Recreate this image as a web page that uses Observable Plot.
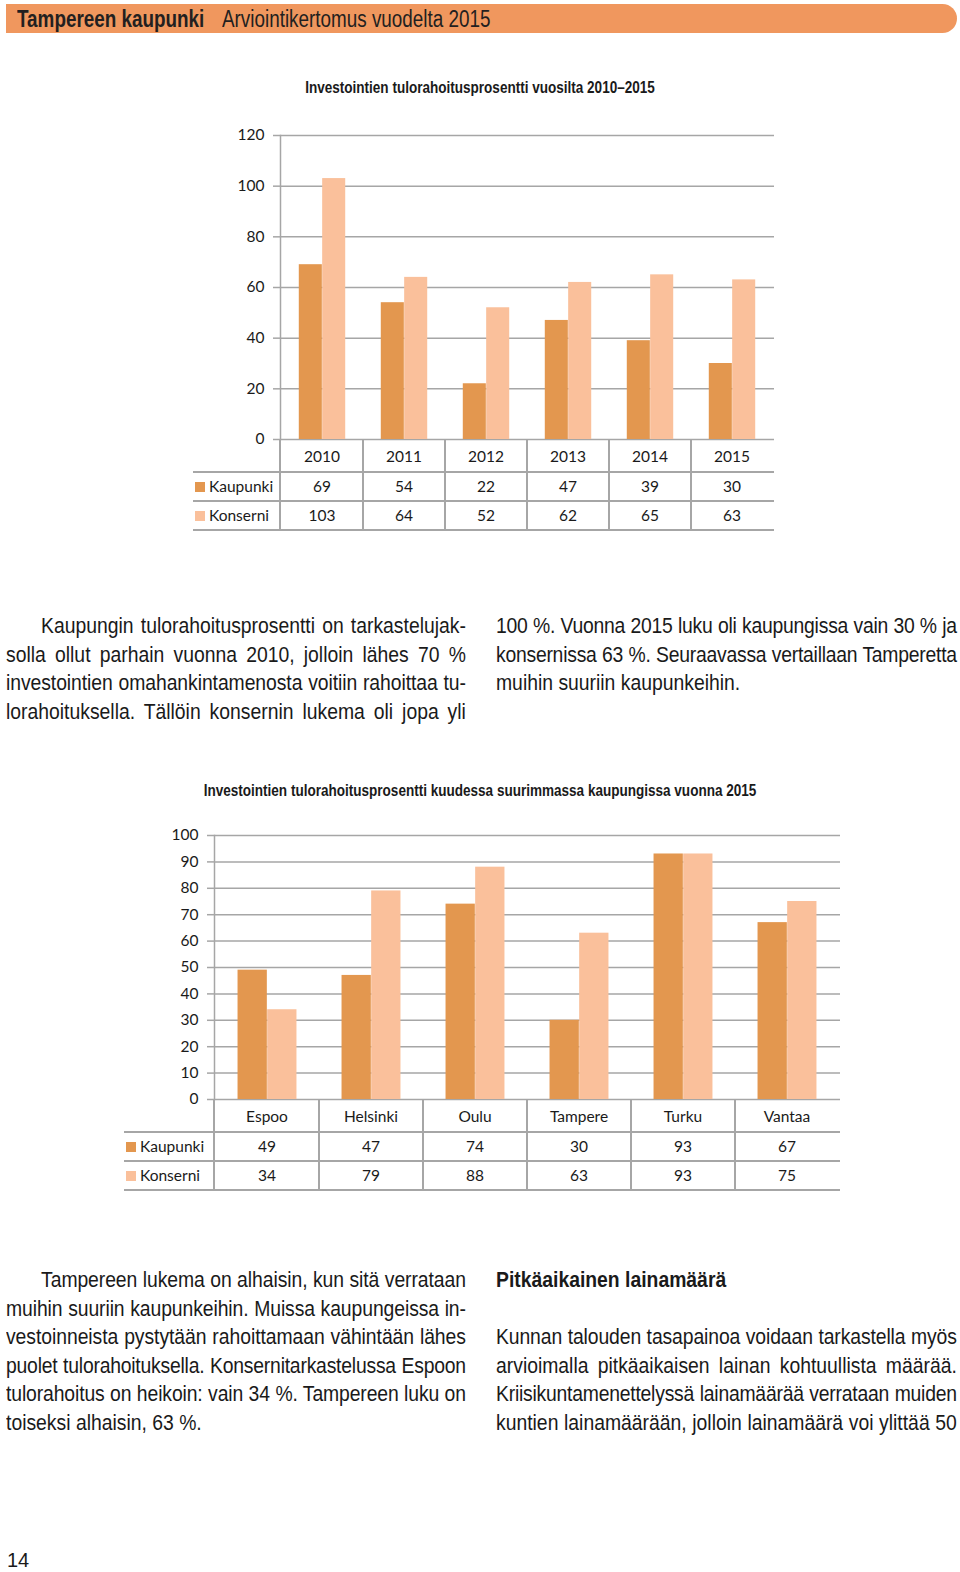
<!DOCTYPE html>
<html><head><meta charset="utf-8">
<script src="https://cdn.jsdelivr.net/npm/d3@7"></script>
<script src="https://cdn.jsdelivr.net/npm/@observablehq/plot@0.6"></script>
<style>
html,body{margin:0;padding:0;}
body{width:960px;height:1572px;position:relative;background:#fff;overflow:hidden;
  font-family:"Liberation Sans",Arial,sans-serif;color:#1a1a1a;}
.abs{position:absolute;}
#header{left:6px;top:4px;width:951px;height:29px;background:#F0975E;border-radius:0 15px 15px 0;}
#header span{position:absolute;top:0;line-height:31px;white-space:nowrap;color:#231f20;transform:scaleX(0.82);transform-origin:0 0;}
.ctitle{font-weight:bold;font-size:16.5px;white-space:nowrap;transform:translateX(-50%) scaleX(0.82);}
.para{font-size:21.5px;line-height:28.6px;transform:scaleX(0.9);transform-origin:0 0;}
.para div{white-space:nowrap;}
.j{text-align:justify;text-align-last:justify;}
.tcell{position:absolute;font-family:Lato,sans-serif;font-size:15.5px;color:#1a1a1a;text-align:center;white-space:nowrap;}
.hl,.vl{position:absolute;background:#a6a6a6;}
</style></head>
<body>
<div id="header" class="abs">
  <span style="left:11px;font-size:23px;font-weight:bold;">Tampereen kaupunki</span>
  <span style="left:216px;font-size:23px;">Arviointikertomus vuodelta 2015</span>
</div>

<div class="abs ctitle" style="left:480px;top:78px;">Investointien tulorahoitusprosentti vuosilta 2010–2015</div>
<div id="chart1" class="abs" style="left:0;top:125px;"></div>
<div id="table1"></div>

<div class="abs para" style="left:6px;top:612px;width:511px;">
  <div class="j" style="padding-left:39px;">Kaupungin tulorahoitusprosentti on tarkastelujak-</div>
  <div class="j">solla ollut parhain vuonna 2010, jolloin lähes 70 %</div>
  <div class="j">investointien omahankintamenosta voitiin rahoittaa tu-</div>
  <div class="j">lorahoituksella. Tällöin konsernin lukema oli jopa yli</div>
</div>
<div class="abs para" style="left:496px;top:612px;width:512px;">
  <div class="j">100 %. Vuonna 2015 luku oli kaupungissa vain 30 % ja</div>
  <div class="j">konsernissa 63 %. Seuraavassa vertaillaan Tamperetta</div>
  <div>muihin suuriin kaupunkeihin.</div>
</div>

<div class="abs ctitle" style="left:480px;top:781px;">Investointien tulorahoitusprosentti kuudessa suurimmassa kaupungissa vuonna 2015</div>
<div id="chart2" class="abs" style="left:0;top:825px;"></div>
<div id="table2"></div>

<div class="abs para" style="left:6px;top:1266px;width:511px;">
  <div class="j" style="padding-left:39px;">Tampereen lukema on alhaisin, kun sitä verrataan</div>
  <div class="j">muihin suuriin kaupunkeihin. Muissa kaupungeissa in-</div>
  <div class="j">vestoinneista pystytään rahoittamaan vähintään lähes</div>
  <div class="j">puolet tulorahoituksella. Konsernitarkastelussa Espoon</div>
  <div class="j">tulorahoitus on heikoin: vain 34 %. Tampereen luku on</div>
  <div>toiseksi alhaisin, 63 %.</div>
</div>
<div class="abs para" style="left:496px;top:1266px;width:512px;">
  <div style="font-weight:bold;">Pitkäaikainen lainamäärä</div>
  <div>&nbsp;</div>
  <div class="j">Kunnan talouden tasapainoa voidaan tarkastella myös</div>
  <div class="j">arvioimalla pitkäaikaisen lainan kohtuullista määrää.</div>
  <div class="j">Kriisikuntamenettelyssä lainamäärää verrataan muiden</div>
  <div class="j">kuntien lainamäärään, jolloin lainamäärä voi ylittää 50</div>
</div>

<div class="abs" style="left:7px;top:1549px;font-family:'Liberation Sans',Arial,sans-serif;font-size:20px;">14</div>

<script>
// ---- data ----
const series = ["Kaupunki", "Konserni"];
const seriesColors = ["#E3974F", "#FAC09B"];

const years = ["2010", "2011", "2012", "2013", "2014", "2015"];
const kaupunki1 = [69, 54, 22, 47, 39, 30];
const konserni1 = [103, 64, 52, 62, 65, 63];
const yTicks1 = [0, 20, 40, 60, 80, 100, 120];

const cities = ["Espoo", "Helsinki", "Oulu", "Tampere", "Turku", "Vantaa"];
const kaupunki2 = [49, 47, 74, 30, 93, 67];
const konserni2 = [34, 79, 88, 63, 93, 75];
const yTicks2 = [0, 10, 20, 30, 40, 50, 60, 70, 80, 90, 100];

const gridColor = "#a6a6a6";

// fit justified lines that are naturally wider than their column
document.querySelectorAll(".para div").forEach(d => {
  const over = d.scrollWidth - d.clientWidth;
  if (over > 0) {
    const n = d.textContent.trim().length;
    d.style.letterSpacing = (-(over + 2) / n) + "px";
  }
});

function groupedChart(cfg) {
  const {cats, a, b, yTicks, yMax, marginLeft, marginRight, plotHeight, top, tableLeft, container, tableId} = cfg;
  const rows = cats.map((c, i) => ({cat: c, a: a[i], b: b[i]}));
  const width = 960, marginTop = 10, marginBottom = 12;
  const bw = (width - marginLeft - marginRight) / cats.length;
  const barW = bw * 0.284;
  const outer = (bw - 2 * barW) / 2;
  const chart = Plot.plot({
    width, height: marginTop + plotHeight + marginBottom,
    marginLeft, marginRight, marginTop, marginBottom,
    style: {fontFamily: "Lato, sans-serif", fontSize: "15.5px", color: "#1a1a1a", background: "transparent", overflow: "visible"},
    x: {domain: cats, padding: 0, axis: null},
    y: {domain: [0, yMax], axis: null},
    marks: [
      Plot.ruleY(yTicks, {stroke: gridColor, strokeWidth: 1.5}),
      Plot.axisY({ticks: yTicks, tickSize: 7, tickPadding: 9, stroke: gridColor, strokeWidth: 1.5, fill: "#1a1a1a", fontSize: 15.5, label: null}),
      Plot.barY(rows, {x: "cat", y: "a", fill: seriesColors[0], insetLeft: outer, insetRight: bw - outer - barW}),
      Plot.barY(rows, {x: "cat", y: "b", fill: seriesColors[1], insetLeft: outer + barW, insetRight: outer}),
      Plot.frame({anchor: "left", stroke: gridColor, strokeWidth: 1.5})
    ]
  });
  document.getElementById(container).appendChild(chart);

  // data table below, columns aligned with the chart's x scale
  const xs = chart.scale("x");
  const ys = chart.scale("y");
  const y0 = top + ys.apply(0);
  const axisX = marginLeft;
  const rightX = width - marginRight;
  const headerH = 33, rowH = 29;
  const t = document.getElementById(tableId);
  const add = (cls, style, text) => {
    const d = document.createElement("div");
    d.className = cls; Object.assign(d.style, style);
    if (text != null) d.textContent = text;
    t.appendChild(d);
  };
  const tableBottom = y0 + headerH + 2 * rowH;
  add("vl", {left: (axisX - 0.75) + "px", top: y0 + "px", width: "1.5px", height: (tableBottom - y0) + "px"});
  cats.forEach((c, i) => {
    if (i === 0) return;
    const x = xs.apply(c);
    add("vl", {left: (x - 0.75) + "px", top: y0 + "px", width: "1.5px", height: (tableBottom - y0) + "px"});
  });
  [y0 + headerH, y0 + headerH + rowH, tableBottom].forEach(y => {
    add("hl", {left: tableLeft + "px", top: (y - 0.75) + "px", width: (rightX - tableLeft) + "px", height: "1.5px"});
  });
  cats.forEach(c => {
    const x = xs.apply(c);
    add("tcell", {left: x + "px", width: xs.bandwidth + "px", top: y0 + "px", height: headerH + "px", lineHeight: (headerH + 2) + "px"}, c);
  });
  [a, b].forEach((vals, r) => {
    const ry = y0 + headerH + r * rowH;
    add("tcell", {left: (tableLeft + 2) + "px", top: (ry + rowH / 2 - 5) + "px", width: "10px", height: "10px", background: seriesColors[r]});
    add("tcell", {left: (tableLeft + 16) + "px", top: ry + "px", height: rowH + "px", lineHeight: rowH + "px", textAlign: "left"}, series[r]);
    cats.forEach((c, i) => {
      const x = xs.apply(c);
      add("tcell", {left: x + "px", width: xs.bandwidth + "px", top: ry + "px", height: rowH + "px", lineHeight: rowH + "px"}, vals[i]);
    });
  });
}

groupedChart({cats: years, a: kaupunki1, b: konserni1, yTicks: yTicks1, yMax: 120,
  marginLeft: 280, marginRight: 186, plotHeight: 304, top: 125, tableLeft: 193,
  container: "chart1", tableId: "table1"});
groupedChart({cats: cities, a: kaupunki2, b: konserni2, yTicks: yTicks2, yMax: 100,
  marginLeft: 214, marginRight: 120, plotHeight: 264, top: 825, tableLeft: 124,
  container: "chart2", tableId: "table2"});
</script>
</body></html>
